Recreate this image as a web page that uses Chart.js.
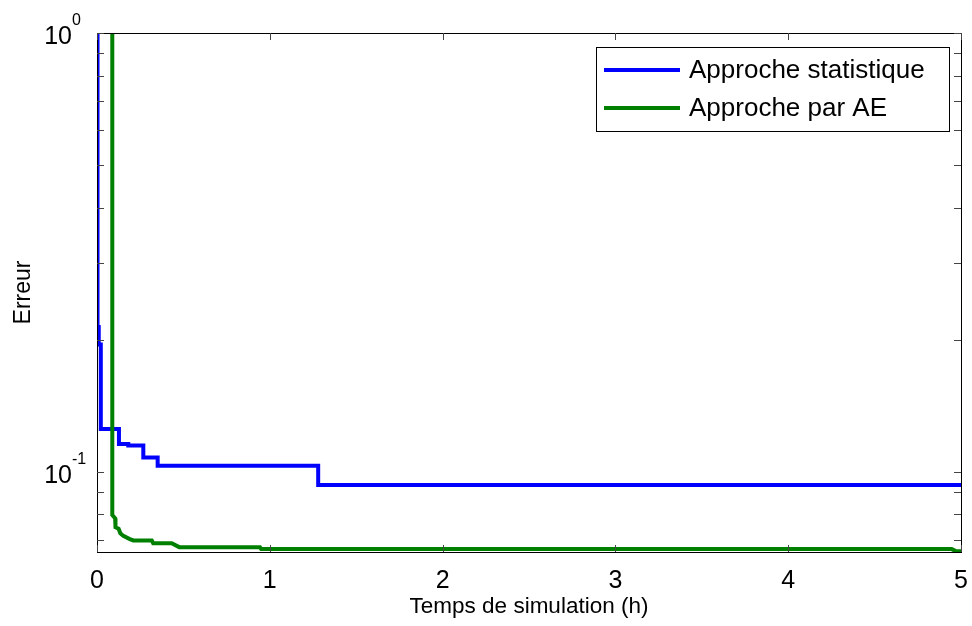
<!doctype html>
<html lang="fr">
<head>
<meta charset="UTF-8" />
<title>Erreur en fonction du temps de simulation</title>
<style>
html,body{margin:0;padding:0;background:#fff}
canvas{display:block}
</style>
</head>
<body>
<canvas id="canvas" width="972" height="626"></canvas>
<script src="https://cdn.jsdelivr.net/npm/chart.js"></script>
<script>
// values (time in h, error on log scale)
const statTime = [0, 0.003, 0.010, 0.022, 0.127, 0.181, 0.268, 0.351, 1.280, 5]
const statErr  = [1, 0.214, 0.195, 0.1253, 0.1158, 0.1148, 0.1078, 0.1033, 0.0934, 0.0934]
const aeTime = [0.0885, 0.0885, 0.105, 0.107, 0.125, 0.135, 0.152, 0.190, 0.210, 0.317, 0.325, 0.432, 0.476, 0.943, 0.950, 4.946, 4.97, 5]
const aeErr  = [1, 0.0798, 0.0784, 0.0748, 0.0742, 0.0725, 0.0715, 0.0703, 0.0698, 0.0698, 0.0688, 0.0688, 0.0674, 0.0674, 0.0667, 0.0667, 0.0660, 0.0660]
const seriesNames = ['Approche statistique', 'Approche par AE']
const xTicks = [0, 1, 2, 3, 4, 5]
const yMajor = [0.1, 1]
const yMajorExp = ['-1', '0']
const yMinor = [0.07, 0.08, 0.09, 0.2, 0.3, 0.4, 0.5, 0.6, 0.7, 0.8, 0.9]

const FONT = "'Liberation Sans', Arial, Helvetica, sans-serif"
const toPts = (xs, ys) => xs.map((x, i) => ({x: x, y: ys[i]}))

const stat = {
  label: seriesNames[0],
  data: toPts(statTime, statErr),
  borderColor: '#0000ff',
  borderWidth: 4,
  stepped: 'before',
  pointRadius: 0,
  showLine: true,
  order: 1
}
const ae = {
  label: seriesNames[1],
  data: toPts(aeTime, aeErr),
  borderColor: '#008000',
  borderWidth: 4,
  pointRadius: 0,
  showLine: true,
  order: 0
}

// MATLAB look: box, inward ticks, 10^n labels, legend inside the axes
const matlabAxes = {
  id: 'matlabAxes',
  afterDraw(chart) {
    const {ctx, chartArea: a, scales: {x, y}} = chart
    ctx.save()
    ctx.strokeStyle = '#000'
    ctx.lineWidth = 1
    ctx.strokeRect(a.left + 0.5, a.top + 0.5, a.right - a.left, a.bottom - a.top)
    ctx.strokeStyle = '#444'
    const tl = 7
    ctx.beginPath()
    xTicks.forEach(v => {
      const px = Math.round(x.getPixelForValue(v)) + 0.5
      ctx.moveTo(px, a.bottom); ctx.lineTo(px, a.bottom - tl)
      ctx.moveTo(px, a.top); ctx.lineTo(px, a.top + tl)
    })
    yMajor.concat(yMinor).forEach(v => {
      const py = Math.round(y.getPixelForValue(v)) + 0.5
      ctx.moveTo(a.left, py); ctx.lineTo(a.left + tl, py)
      ctx.moveTo(a.right, py); ctx.lineTo(a.right - tl, py)
    })
    ctx.stroke()

    // y tick labels 10^n
    ctx.fillStyle = '#000'
    ctx.textBaseline = 'alphabetic'
    yMajor.forEach((v, i) => {
      const py = y.getPixelForValue(v)
      ctx.font = '25px ' + FONT
      ctx.textAlign = 'right'
      ctx.fillText('10', 72, py + 11)
      ctx.font = '16px ' + FONT
      ctx.textAlign = 'left'
      ctx.fillText(yMajorExp[i], 72, py - 8)
    })

    // legend
    const L = {left: 596, top: 47, right: 949, bottom: 131}
    ctx.fillStyle = '#fff'
    ctx.fillRect(L.left, L.top, L.right - L.left, L.bottom - L.top)
    ctx.strokeStyle = '#000'
    ctx.strokeRect(L.left + 0.5, L.top + 0.5, L.right - L.left, L.bottom - L.top)
    ctx.font = '26px ' + FONT
    ctx.textAlign = 'left'
    ctx.textBaseline = 'middle'
    const rows = [70, 108]
    ;[stat, ae].forEach((d, i) => {
      ctx.strokeStyle = d.borderColor
      ctx.lineWidth = 4
      ctx.beginPath()
      ctx.moveTo(L.left + 8, rows[i]); ctx.lineTo(680, rows[i])
      ctx.stroke()
      ctx.fillStyle = '#000'
      ctx.fillText(d.label, 689, rows[i] + 1)
    })
    ctx.restore()
  }
}

new Chart(document.getElementById('canvas'), {
  type: 'scatter',
  data: {datasets: [stat, ae]},
  options: {
    responsive: false,
    animation: false,
    events: [],
    layout: {padding: {top: 33, right: 11, left: 0, bottom: 0}},
    plugins: {legend: {display: false}, tooltip: {enabled: false}},
    scales: {
      x: {
        type: 'linear', min: 0, max: 5,
        grid: {display: false, drawTicks: false},
        border: {display: false},
        afterBuildTicks: s => { s.ticks = xTicks.map(v => ({value: v})) },
        afterFit: s => { s.height = 626 - 552; s.paddingLeft = 0; s.paddingRight = 0 },
        ticks: {color: '#000', padding: 14, font: {family: FONT, size: 25}, maxRotation: 0},
        title: {display: true, text: 'Temps de simulation (h)', color: '#000', font: {family: FONT, size: 22.5}, padding: {top: 0, bottom: 6}}
      },
      y: {
        type: 'logarithmic', min: 0.0657, max: 1,
        grid: {display: false, drawTicks: false},
        border: {display: false},
        afterFit: s => { s.width = 97; s.paddingTop = 0; s.paddingBottom = 0 },
        ticks: {display: false},
        title: {display: true, text: 'Erreur', color: '#000', font: {family: FONT, size: 23}, padding: {top: 10, bottom: 0}}
      }
    }
  },
  plugins: [matlabAxes]
})
</script>
</body>
</html>
